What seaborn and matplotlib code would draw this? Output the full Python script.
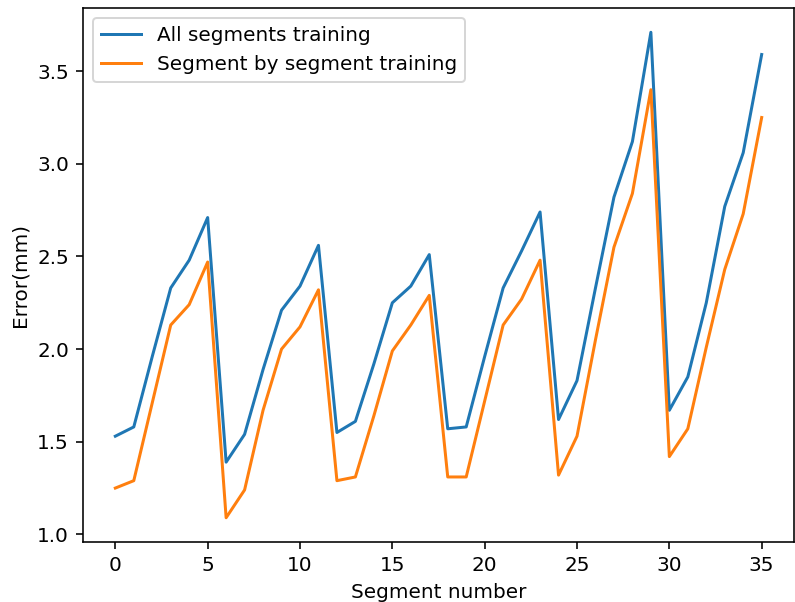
import numpy as np
import pandas as pd
import matplotlib
matplotlib.use('Agg')
import matplotlib.pyplot as plt
import seaborn as sns

# error per segment
segment = list(range(36))
err_all = [1.53, 1.58, 1.96, 2.33, 2.48, 2.71, 1.39, 1.54, 1.89, 2.21, 2.34, 2.56,
           1.55, 1.61, 1.92, 2.25, 2.34, 2.51, 1.57, 1.58, 1.96, 2.33, 2.53, 2.74,
           1.62, 1.83, 2.33, 2.82, 3.12, 3.71, 1.67, 1.85, 2.25, 2.77, 3.06, 3.59]
err_seg = [1.25, 1.29, 1.71, 2.13, 2.24, 2.47, 1.09, 1.24, 1.67, 2.00, 2.12, 2.32,
           1.29, 1.31, 1.64, 1.99, 2.13, 2.29, 1.31, 1.31, 1.72, 2.13, 2.27, 2.48,
           1.32, 1.53, 2.05, 2.55, 2.84, 3.40, 1.42, 1.57, 2.01, 2.43, 2.73, 3.25]

df = pd.DataFrame({'segment': segment, 'all': err_all, 'seg': err_seg})

W, H, DPI = 795, 602, 144
fig = plt.figure(figsize=(W / DPI, H / DPI), dpi=DPI)
# axes placed in pixels so the x label is cut at the bottom like the reference
ax = fig.add_axes([83 / W, (H - 542) / H, (794 - 83) / W, (542 - 8) / H])

sns.lineplot(data=df, x='segment', y='all', ax=ax, color='#1f77b4',
             label='All segments training')
sns.lineplot(data=df, x='segment', y='seg', ax=ax, color='#ff7f0e',
             label='Segment by segment training')

ax.set_xlabel('Segment number')
ax.set_ylabel('Error(mm)')
ax.legend(loc='upper left')

fig.savefig('out.png', dpi=DPI)
